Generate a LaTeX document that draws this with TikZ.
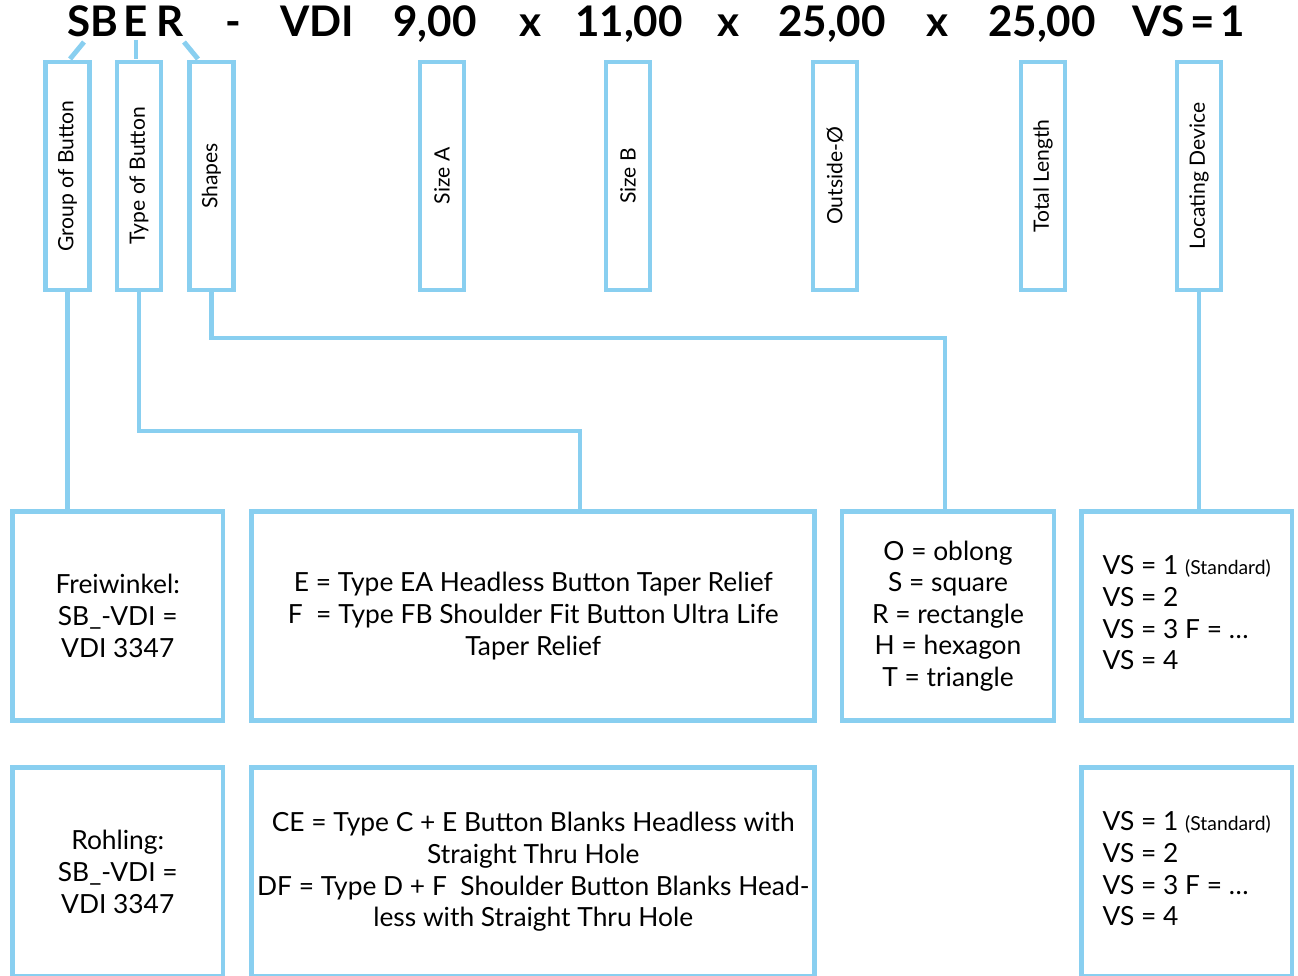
\documentclass[tikz,border=0pt]{standalone}
\usepackage{fontspec}
\setmainfont{Lato}
\definecolor{skyline}{RGB}{137,207,240}
\usetikzlibrary{positioning,calc}

\begin{document}
\begin{tikzpicture}[
  x=0.02cm,y=-0.02cm,
  code/.style={font=\fontsize{24}{28}\selectfont\bfseries,anchor=base,inner sep=0pt},
  tag/.style={draw=skyline,line width=2.8pt,minimum width=0.88cm,minimum height=4.56cm,
    inner sep=0pt,font=\fontsize{12}{14}\selectfont},
  info/.style={draw=skyline,line width=2.8pt,minimum height=4.18cm,inner sep=0pt,
    font=\fontsize{15}{18}\selectfont,align=center},
  link/.style={draw=skyline,line width=2.8pt}
]
  \useasboundingbox (0,0) rectangle (1298,976);
  % Order code
  \node[code] (cSB) at (93,37) {SB};
  \node[code] (cE) at (136,37) {E};
  \node[code] (cR) at (170,37) {R};
  \node[code] (cDash) at (233,37) {-};
  \node[code] (cVDI) at (317,37) {VDI};
  \node[code] (cA) at (435,37) {9,00};
  \node[code] (cX1) at (530,37) {x};
  \node[code] (cB) at (629,37) {11,00};
  \node[code] (cX2) at (728,37) {x};
  \node[code] (cD) at (832,37) {25,00};
  \node[code] (cX3) at (937,37) {x};
  \node[code] (cL) at (1042,37) {25,00};
  \node[code] (cVS) at (1189,37) {VS\hspace{0.14em}=\hspace{0.14em}1};
  % Field tags
  \node[tag] (grp) at (67.5,176) {\rotatebox{90}{Group of Button}};
  \node[tag] (typ) at (139,176) {\rotatebox{90}{Type of Button}};
  \node[tag] (shp) at (211.5,176) {\rotatebox{90}{Shapes}};
  \node[tag] (sizea) at (442,176) {\rotatebox{90}{Size A}};
  \node[tag] (sizeb) at (628,176) {\rotatebox{90}{Size B}};
  \node[tag] (outd) at (835,176) {\rotatebox{90}{Outside-Ø}};
  \node[tag] (totl) at (1043,176) {\rotatebox{90}{Total Length}};
  \node[tag] (loc) at (1199,176) {\rotatebox{90}{Locating Device}};
  % Ticks from code to tags
  \coordinate (tSB) at (84,42);
  \coordinate (tE) at (136,40);
  \coordinate (tR) at (184,42);
  \draw[link] (tSB) -- ++(-14,17);
  \draw[link] (tE) -- ++(0,19);
  \draw[link] (tR) -- ++(14,17);
  % First row
  \node[info,minimum width=4.21cm] (frei) at (117.75,616) {Freiwinkel:\\SB\_-VDI =\\VDI 3347};
  \node[info,minimum width=11.27cm] (desc) at (533.25,616)
    {E = Type EA Headless Button Taper Relief\\F\ \ = Type FB Shoulder Fit Button Ultra Life\\Taper Relief};
  \node[info,minimum width=4.24cm] (form) at (948,616)
    {O = oblong\\S = square\\R = rectangle\\H = hexagon\\T = triangle};
  \node[info,minimum width=4.21cm] (vsa) at (1186.75,616)
    {\begin{tabular}{@{}l@{}}VS = 1 {\fontsize{11}{13}\selectfont(Standard)}\\VS = 2\\VS = 3 F = \dots\\VS = 4\end{tabular}};
  % Second row
  \node[info,minimum width=4.21cm] (rohl) at (117.75,872) {Rohling:\\SB\_-VDI =\\VDI 3347};
  \node[info,minimum width=11.27cm] (blank) at (533.25,872)
    {CE = Type C + E Button Blanks Headless with\\Straight Thru Hole\\DF = Type D + F\ \ Shoulder Button Blanks Head-\\less with Straight Thru Hole};
  \node[info,minimum width=4.21cm] (vsb) at (1186.75,872)
    {\begin{tabular}{@{}l@{}}VS = 1 {\fontsize{11}{13}\selectfont(Standard)}\\VS = 2\\VS = 3 F = \dots\\VS = 4\end{tabular}};
  % Connectors
  \coordinate (kType) at (580,431);
  \coordinate (kShape) at (945,338);
  \draw[link] (grp.south) -- (grp.south |- frei.north);
  \draw[link] (typ.south) |- (kType) -- (kType |- desc.north);
  \draw[link] (shp.south) |- (kShape) -- (kShape |- form.north);
  \draw[link] (loc.south) -- (loc.south |- vsa.north);
\end{tikzpicture}
\end{document}
